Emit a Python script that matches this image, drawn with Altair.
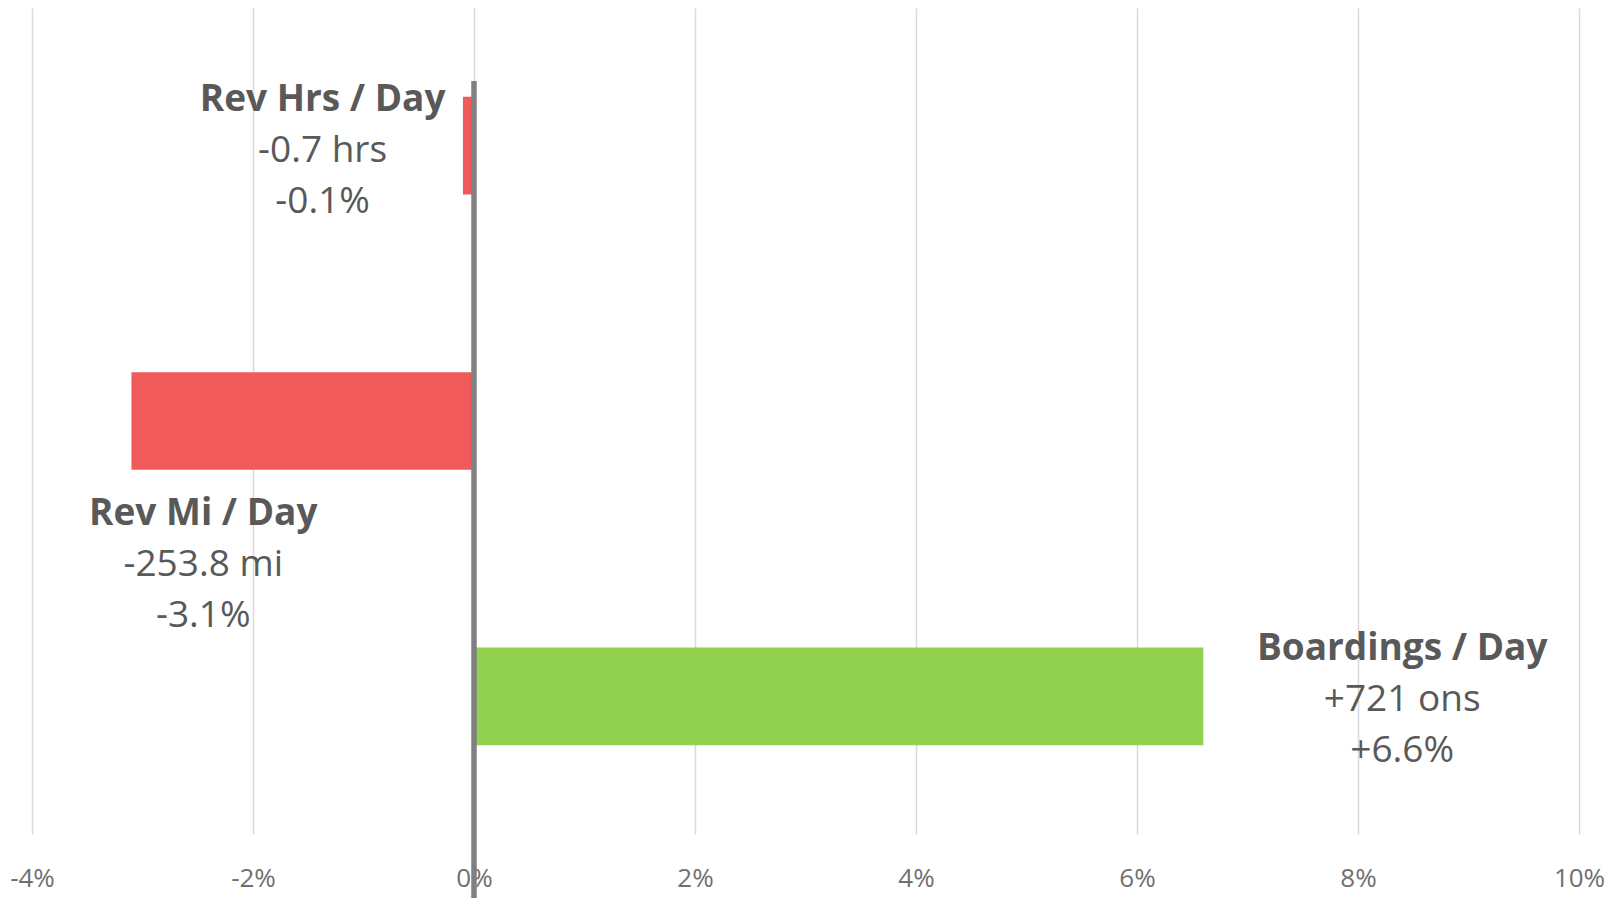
import altair as alt
import pandas as pd

# ---- data ----
categories = ["Rev Hrs / Day", "Rev Mi / Day", "Boardings / Day"]
pct_change = [-0.1, -3.1, 6.6]
abs_change = ["-0.7 hrs", "-253.8 mi", "+721 ons"]
pct_label = ["-0.1%", "-3.1%", "+6.6%"]
tick_values = [-4, -2, 0, 2, 4, 6, 8, 10]

df = pd.DataFrame({
    "cat": categories,
    "pct": pct_change,
    "abs": abs_change,
    "plab": pct_label,
})
df["color"] = ["#F05A5B" if v < 0 else "#92D050" for v in df["pct"]]

# ---- layout (label placement, not data) ----
label_x = {"Rev Hrs / Day": -1.37, "Rev Mi / Day": -2.45, "Boardings / Day": 8.4}
label_dy = {"Rev Hrs / Day": 5, "Rev Mi / Day": 144, "Boardings / Day": 4}
df["lx"] = df["cat"].map(label_x)

W, H = 1547, 826
FONT = "Open Sans"
TXT = "#595959"
LINE = 51
FS = 37

xscale = alt.Scale(domain=[-4, 10], nice=False, zero=False)
yscale = alt.Scale(domain=categories, paddingInner=0.645, paddingOuter=0.3225)

base = alt.Chart(df)

bars = base.mark_bar().encode(
    x=alt.X("pct:Q", scale=xscale,
            axis=alt.Axis(values=tick_values, labelExpr="datum.value + '%'",
                          title=None, domain=False, ticks=False, grid=True,
                          gridColor="#d9d9d9", gridWidth=1.5, labelFlush=False,
                          labelFont=FONT, labelFontSize=26, labelColor="#707070",
                          labelPadding=31)),
    x2=alt.datum(0),
    y=alt.Y("cat:N", scale=yscale, axis=None, sort=categories),
    color=alt.Color("color:N", scale=None),
)

zero = alt.Chart(pd.DataFrame({"z": [0]})).mark_rule(color="#808080", strokeWidth=5.5).encode(
    x=alt.X("z:Q", scale=xscale),
    y=alt.value(73),
    y2=alt.value(H + 80),
)

layers = [bars, zero]
for cat in categories:
    dy0 = label_dy[cat]
    sub = base.transform_filter(alt.datum.cat == cat)
    for field, weight, off in [("cat", "bold", -LINE), ("abs", "normal", 0), ("plab", "normal", LINE)]:
        layers.append(
            sub.mark_text(font=FONT, fontSize=FS, fontWeight=weight, color=TXT,
                          align="center", baseline="middle", dy=dy0 + off).encode(
                x=alt.X("lx:Q", scale=xscale),
                y=alt.Y("cat:N", scale=yscale, sort=categories),
                text=alt.Text(f"{field}:N"),
            )
        )

chart = alt.layer(*layers).properties(
    width=W, height=H,
    padding={"left": 24, "top": 0, "right": 28, "bottom": 64},
    autosize=alt.AutoSizeParams(type="none"),
).configure_view(stroke=None)

chart.save("out.html", embed_options={"renderer": "svg", "actions": False})
